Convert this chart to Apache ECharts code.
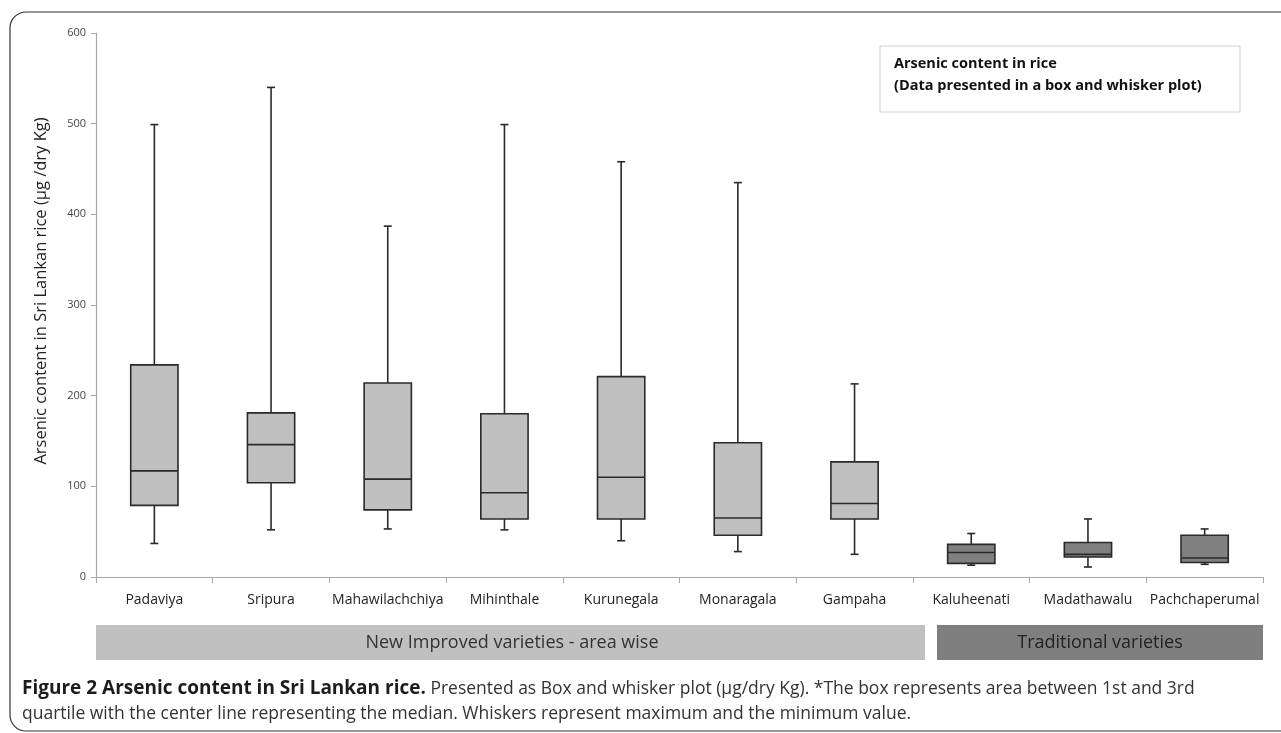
<!DOCTYPE html>
<html><head><meta charset="utf-8">
<script src="https://cdn.jsdelivr.net/npm/echarts@6/dist/echarts.min.js"></script>
<style>html,body{margin:0;padding:0;background:#fff}#c{width:1281px;height:733px}</style>
</head><body><div id="c"></div>
<script>
const categories = ['Padaviya','Sripura','Mahawilachchiya','Mihinthale','Kurunegala','Monaragala','Gampaha','Kaluheenati','Madathawalu','Pachchaperumal'];
const minVals    = [37, 52, 53, 52, 40, 28, 25, 13, 11, 14];
const q1Vals     = [79, 104, 74, 64, 64, 46, 64, 15, 22, 16];
const medianVals = [117, 146, 108, 93, 110, 65, 81, 27, 25, 21];
const q3Vals     = [234, 181, 214, 180, 221, 148, 127, 36, 38, 46];
const maxVals    = [499, 540, 387, 499, 458, 435, 213, 48, 64, 53];
const groups     = ['new','new','new','new','new','new','new','trad','trad','trad'];
const yTicks = [0,100,200,300,400,500,600];

const data = categories.map((c,i)=>[i, minVals[i], q1Vals[i], medianVals[i], q3Vals[i], maxVals[i], groups[i]==='trad'?1:0]);

const chart = echarts.init(document.getElementById('c'));
const font = "'Open Sans', 'DejaVu Sans', sans-serif";
chart.setOption({
  animation:false,
  backgroundColor:'#fff',
  grid:{left:96,right:18,top:33,bottom:156},
  xAxis:{type:'category',data:categories,boundaryGap:true,
    axisLine:{lineStyle:{color:'#a8a8a8',width:1.2}},
    axisTick:{show:true,length:6,lineStyle:{color:'#a8a8a8'}},
    axisLabel:{color:'#222',fontSize:14,fontFamily:font,margin:16,interval:0}},
  yAxis:{type:'value',min:yTicks[0],max:yTicks[yTicks.length-1],interval:100,
    splitLine:{show:false},
    axisLine:{show:true,lineStyle:{color:'#a8a8a8',width:1.2}},
    axisTick:{show:true,length:5,inside:false,lineStyle:{color:'#a8a8a8'}},
    axisLabel:{color:'#444',fontSize:11,fontFamily:font,margin:10}},
  series:[{
    type:'custom',
    data:data,
    encode:{x:0,y:[1,2,3,4,5]},
    renderItem:function(params,api){
      const i=api.value(0);
      const pMin=api.coord([i,api.value(1)]);
      const pQ1=api.coord([i,api.value(2)]);
      const pMed=api.coord([i,api.value(3)]);
      const pQ3=api.coord([i,api.value(4)]);
      const pMax=api.coord([i,api.value(5)]);
      const bw=api.size([1,0])[0]*0.405;
      const cap=8;
      const x=pMed[0];
      const fill=api.value(6)===1?'#808080':'#c0c0c0';
      const ls={stroke:'#2a2a2a',lineWidth:1.6};
      return {type:'group',children:[
        {type:'line',shape:{x1:x,y1:pMax[1],x2:x,y2:pQ3[1]},style:ls},
        {type:'line',shape:{x1:x,y1:pQ1[1],x2:x,y2:pMin[1]},style:ls},
        {type:'line',shape:{x1:x-cap/2,y1:pMax[1],x2:x+cap/2,y2:pMax[1]},style:ls},
        {type:'line',shape:{x1:x-cap/2,y1:pMin[1],x2:x+cap/2,y2:pMin[1]},style:ls},
        {type:'rect',shape:{x:x-bw/2,y:pQ3[1],width:bw,height:pQ1[1]-pQ3[1]},style:{fill:fill,stroke:'#2a2a2a',lineWidth:1.6}},
        {type:'line',shape:{x1:x-bw/2,y1:pMed[1],x2:x+bw/2,y2:pMed[1]},style:ls}
      ]};
    }
  }],
  graphic:[
    {type:'rect',shape:{x:10,y:12,width:1290,height:719,r:16},style:{fill:'none',stroke:'#333',lineWidth:1.2},z:-1},
    {type:'text',x:41,y:291,rotation:Math.PI/2,style:{text:'Arsenic content in Sri Lankan rice (µg /dry Kg)',font:'16.5px '+font,fill:'#222',align:'center',verticalAlign:'middle'}},
    {type:'rect',shape:{x:880,y:46,width:360,height:66},style:{fill:'#fff',stroke:'#cfcfcf',lineWidth:1}},
    {type:'text',x:894,y:64,style:{text:'Arsenic content in rice',font:'bold 14.5px '+font,fill:'#111',verticalAlign:'middle'}},
    {type:'text',x:894,y:86,style:{text:'(Data presented in a box and whisker plot)',font:'bold 14.5px '+font,fill:'#111',verticalAlign:'middle'}},
    {type:'rect',shape:{x:96,y:625,width:829,height:35},style:{fill:'#c0c0c0'}},
    {type:'text',x:512,y:643,style:{text:'New Improved varieties - area wise',font:'18px '+font,fill:'#333',align:'center',verticalAlign:'middle'}},
    {type:'rect',shape:{x:937,y:625,width:326,height:35},style:{fill:'#7f7f7f'}},
    {type:'text',x:1100,y:643,style:{text:'Traditional varieties',font:'18px '+font,fill:'#222',align:'center',verticalAlign:'middle'}},
    {type:'text',x:22,y:689,style:{verticalAlign:'middle',rich:{b:{font:'bold 19px '+font,fill:'#1c1c1c'},n:{font:'17.5px '+font,fill:'#333'}},text:'{b|Figure 2 Arsenic content in Sri Lankan rice.}{n| Presented as Box and whisker plot (µg/dry Kg). *The box represents area between 1st and 3rd}'}},
    {type:'text',x:22,y:714,style:{text:'quartile with the center line representing the median. Whiskers represent maximum and the minimum value.',font:'17.5px '+font,fill:'#333',verticalAlign:'middle'}}
  ]
});
</script></body></html>
